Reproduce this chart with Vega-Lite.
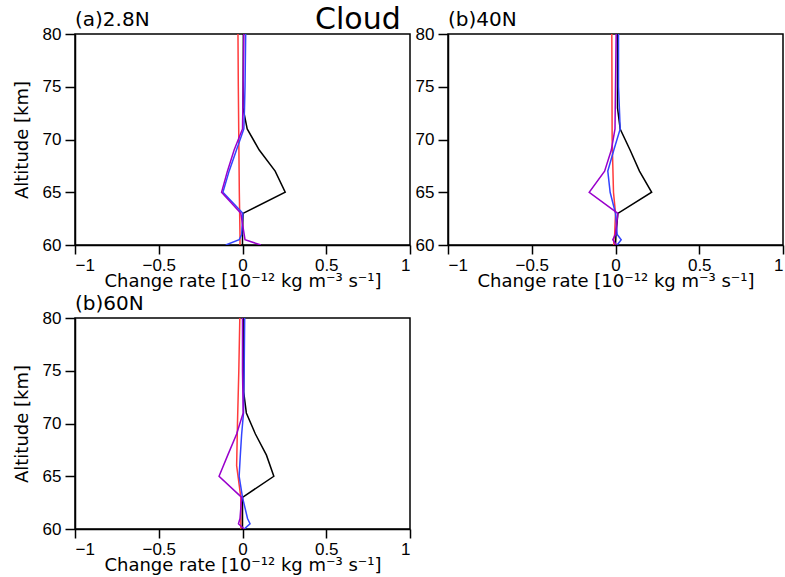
{
  "$schema": "https://vega.github.io/schema/vega-lite/v6.json",
  "background": "white",
  "padding": {"left": 12, "top": 5, "right": 0, "bottom": 0},
  "title": {"text": "Cloud", "anchor": "start", "dx": 240, "font": "DejaVu Sans", "fontSize": 30, "fontWeight": "normal", "color": "black", "offset": -26},
  "data": {"values": [
    {"p":"a","s":"red","alt":80,"v":-0.027},{"p":"a","s":"red","alt":75,"v":-0.025},{"p":"a","s":"red","alt":70,"v":-0.022},{"p":"a","s":"red","alt":65,"v":-0.019},{"p":"a","s":"red","alt":63,"v":-0.017},{"p":"a","s":"red","alt":61,"v":-0.015},{"p":"a","s":"red","alt":60,"v":-0.015},
    {"p":"a","s":"black","alt":80,"v":0.005},{"p":"a","s":"black","alt":75,"v":0.004},{"p":"a","s":"black","alt":73,"v":0.003},{"p":"a","s":"black","alt":71,"v":0.028},{"p":"a","s":"black","alt":69,"v":0.10},{"p":"a","s":"black","alt":67,"v":0.195},{"p":"a","s":"black","alt":65,"v":0.255},{"p":"a","s":"black","alt":63,"v":0.003},{"p":"a","s":"black","alt":61,"v":0.0},{"p":"a","s":"black","alt":60,"v":0.0},
    {"p":"a","s":"blue","alt":80,"v":0.019},{"p":"a","s":"blue","alt":75,"v":0.015},{"p":"a","s":"blue","alt":73,"v":0.012},{"p":"a","s":"blue","alt":71,"v":0.008},{"p":"a","s":"blue","alt":69,"v":-0.036},{"p":"a","s":"blue","alt":67,"v":-0.08},{"p":"a","s":"blue","alt":65,"v":-0.117},{"p":"a","s":"blue","alt":63,"v":0.002},{"p":"a","s":"blue","alt":61,"v":-0.005},{"p":"a","s":"blue","alt":60.5,"v":-0.02},{"p":"a","s":"blue","alt":60,"v":-0.1},
    {"p":"a","s":"purple","alt":80,"v":0.008},{"p":"a","s":"purple","alt":75,"v":0.004},{"p":"a","s":"purple","alt":71,"v":0.0},{"p":"a","s":"purple","alt":69,"v":-0.05},{"p":"a","s":"purple","alt":67,"v":-0.09},{"p":"a","s":"purple","alt":65,"v":-0.125},{"p":"a","s":"purple","alt":63,"v":-0.01},{"p":"a","s":"purple","alt":61,"v":0.01},{"p":"a","s":"purple","alt":60.5,"v":0.015},{"p":"a","s":"purple","alt":60,"v":0.11},

    {"p":"b","s":"red","alt":80,"v":-0.022},{"p":"b","s":"red","alt":70,"v":-0.02},{"p":"b","s":"red","alt":65,"v":-0.012},{"p":"b","s":"red","alt":63,"v":0.0},{"p":"b","s":"red","alt":61,"v":-0.005},{"p":"b","s":"red","alt":60.5,"v":-0.01},{"p":"b","s":"red","alt":60,"v":-0.01},
    {"p":"b","s":"black","alt":80,"v":0.012},{"p":"b","s":"black","alt":75,"v":0.012},{"p":"b","s":"black","alt":73,"v":0.012},{"p":"b","s":"black","alt":71,"v":0.028},{"p":"b","s":"black","alt":69,"v":0.087},{"p":"b","s":"black","alt":67,"v":0.143},{"p":"b","s":"black","alt":65,"v":0.216},{"p":"b","s":"black","alt":63,"v":0.014},{"p":"b","s":"black","alt":61,"v":0.003},{"p":"b","s":"black","alt":60,"v":0.0},
    {"p":"b","s":"blue","alt":80,"v":0.018},{"p":"b","s":"blue","alt":75,"v":0.018},{"p":"b","s":"blue","alt":71,"v":0.028},{"p":"b","s":"blue","alt":69,"v":-0.01},{"p":"b","s":"blue","alt":67,"v":-0.046},{"p":"b","s":"blue","alt":65,"v":-0.032},{"p":"b","s":"blue","alt":63,"v":0.0},{"p":"b","s":"blue","alt":61,"v":0.01},{"p":"b","s":"blue","alt":60.5,"v":0.034},{"p":"b","s":"blue","alt":60,"v":0.01},
    {"p":"b","s":"purple","alt":80,"v":0.004},{"p":"b","s":"purple","alt":75,"v":0.0},{"p":"b","s":"purple","alt":71,"v":-0.003},{"p":"b","s":"purple","alt":69,"v":-0.025},{"p":"b","s":"purple","alt":67,"v":-0.065},{"p":"b","s":"purple","alt":65,"v":-0.157},{"p":"b","s":"purple","alt":63,"v":0.014},{"p":"b","s":"purple","alt":61,"v":0.0},{"p":"b","s":"purple","alt":60.5,"v":-0.016},{"p":"b","s":"purple","alt":60,"v":0.005},

    {"p":"c","s":"red","alt":80,"v":-0.016},{"p":"c","s":"red","alt":75,"v":-0.022},{"p":"c","s":"red","alt":70,"v":-0.03},{"p":"c","s":"red","alt":66,"v":-0.035},{"p":"c","s":"red","alt":63,"v":-0.01},{"p":"c","s":"red","alt":61,"v":-0.01},{"p":"c","s":"red","alt":60,"v":-0.01},
    {"p":"c","s":"black","alt":80,"v":0.007},{"p":"c","s":"black","alt":73,"v":0.007},{"p":"c","s":"black","alt":71,"v":0.023},{"p":"c","s":"black","alt":69,"v":0.077},{"p":"c","s":"black","alt":67,"v":0.143},{"p":"c","s":"black","alt":65,"v":0.187},{"p":"c","s":"black","alt":63,"v":0.0},{"p":"c","s":"black","alt":61,"v":0.0},{"p":"c","s":"black","alt":60,"v":0.0},
    {"p":"c","s":"blue","alt":80,"v":0.013},{"p":"c","s":"blue","alt":75,"v":0.01},{"p":"c","s":"blue","alt":71,"v":0.006},{"p":"c","s":"blue","alt":69,"v":-0.005},{"p":"c","s":"blue","alt":67,"v":-0.013},{"p":"c","s":"blue","alt":65,"v":-0.02},{"p":"c","s":"blue","alt":63,"v":0.0},{"p":"c","s":"blue","alt":61,"v":0.03},{"p":"c","s":"blue","alt":60.5,"v":0.045},{"p":"c","s":"blue","alt":60,"v":0.01},
    {"p":"c","s":"purple","alt":80,"v":0.0},{"p":"c","s":"purple","alt":75,"v":0.0},{"p":"c","s":"purple","alt":71,"v":0.004},{"p":"c","s":"purple","alt":69,"v":-0.035},{"p":"c","s":"purple","alt":67,"v":-0.088},{"p":"c","s":"purple","alt":65,"v":-0.14},{"p":"c","s":"purple","alt":63,"v":-0.005},{"p":"c","s":"purple","alt":61,"v":-0.015},{"p":"c","s":"purple","alt":60.5,"v":-0.024},{"p":"c","s":"purple","alt":60,"v":0.01}
  ]},
  "columns": 2,
  "bounds": "flush",
  "spacing": {"row": 73, "column": 38},
  "concat": [
    {
      "title": {"text": "(a)2.8N"},
      "width": 335, "height": 211,
      "transform": [{"filter": "datum.p == 'a'"}],
      "mark": {"type": "line", "strokeWidth": 1.5, "clip": true},
      "encoding": {
        "x": {"field": "v", "type": "quantitative", "scale": {"domain": [-1, 1]}, "axis": {"values": [-1, -0.5, 0, 0.5, 1], "format": "~g", "title": "Change rate [10⁻¹² kg m⁻³ s⁻¹]"}},
        "y": {"field": "alt", "type": "quantitative", "scale": {"domain": [60, 80]}, "axis": {"values": [60, 65, 70, 75, 80], "title": "Altitude [km]"}},
        "color": {"field": "s", "type": "nominal", "scale": {"domain": ["red", "black", "blue", "purple"], "range": ["#ff3b3b", "#000000", "#3344ff", "#9900cc"]}, "legend": null},
        "order": {"field": "alt", "type": "quantitative"}
      }
    },
    {
      "title": {"text": "(b)40N"},
      "width": 335, "height": 211,
      "transform": [{"filter": "datum.p == 'b'"}],
      "mark": {"type": "line", "strokeWidth": 1.5, "clip": true},
      "encoding": {
        "x": {"field": "v", "type": "quantitative", "scale": {"domain": [-1, 1]}, "axis": {"values": [-1, -0.5, 0, 0.5, 1], "format": "~g", "title": "Change rate [10⁻¹² kg m⁻³ s⁻¹]"}},
        "y": {"field": "alt", "type": "quantitative", "scale": {"domain": [60, 80]}, "axis": {"values": [60, 65, 70, 75, 80], "title": null}},
        "color": {"field": "s", "type": "nominal", "scale": {"domain": ["red", "black", "blue", "purple"], "range": ["#ff3b3b", "#000000", "#3344ff", "#9900cc"]}, "legend": null},
        "order": {"field": "alt", "type": "quantitative"}
      }
    },
    {
      "title": {"text": "(b)60N"},
      "width": 335, "height": 211,
      "transform": [{"filter": "datum.p == 'c'"}],
      "mark": {"type": "line", "strokeWidth": 1.5, "clip": true},
      "encoding": {
        "x": {"field": "v", "type": "quantitative", "scale": {"domain": [-1, 1]}, "axis": {"values": [-1, -0.5, 0, 0.5, 1], "format": "~g", "title": "Change rate [10⁻¹² kg m⁻³ s⁻¹]"}},
        "y": {"field": "alt", "type": "quantitative", "scale": {"domain": [60, 80]}, "axis": {"values": [60, 65, 70, 75, 80], "title": "Altitude [km]"}},
        "color": {"field": "s", "type": "nominal", "scale": {"domain": ["red", "black", "blue", "purple"], "range": ["#ff3b3b", "#000000", "#3344ff", "#9900cc"]}, "legend": null},
        "order": {"field": "alt", "type": "quantitative"}
      }
    }
  ],
  "resolve": {"scale": {"x": "independent", "y": "independent", "color": "shared"}},
  "config": {
    "view": {"stroke": "black", "strokeWidth": 1.5},
    "axis": {
      "grid": false, "domainColor": "black", "domainWidth": 1.5, "tickColor": "black", "tickWidth": 1.5, "tickSize": 10,
      "labelFont": "Liberation Sans", "labelFontSize": 17, "labelColor": "black", "labelPadding": 4,
      "titleFont": "DejaVu Sans", "titleFontSize": 18, "titleFontWeight": "normal", "titleColor": "black"
    },
    "axisX": {"titlePadding": -1, "tickSize": 9, "labelPadding": 3},
    "axisY": {"titlePadding": 11},
    "title": {"font": "DejaVu Sans", "fontSize": 20, "fontWeight": "normal", "color": "black", "anchor": "start", "frame": "group", "offset": -5}
  }
}
